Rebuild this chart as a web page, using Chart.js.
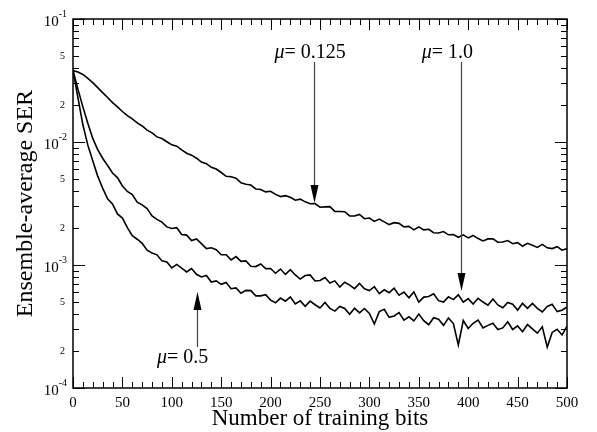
<!DOCTYPE html>
<html>
<head>
<meta charset="utf-8">
<script src="https://cdn.jsdelivr.net/npm/chart.js@4.4.0/dist/chart.umd.min.js"></script>
<style>
  html, body { margin: 0; padding: 0; background: #fff; }
  canvas { display: block; }
</style>
</head>
<body>
<canvas id="serChart" width="597" height="432"></canvas>
<script>
// training bit index of each sample
const bits = [0, 5, 10, 15, 20, 25, 30, 35, 40, 45, 50, 55, 60, 65, 70, 75, 80, 85, 90, 95,
  100, 105, 110, 115, 120, 125, 130, 135, 140, 145, 150, 155, 160, 165, 170, 175, 180, 185, 190, 195,
  200, 205, 210, 215, 220, 225, 230, 235, 240, 245, 250, 255, 260, 265, 270, 275, 280, 285, 290, 295,
  300, 305, 310, 315, 320, 325, 330, 335, 340, 345, 350, 355, 360, 365, 370, 375, 380, 385, 390, 395,
  400, 405, 410, 415, 420, 425, 430, 435, 440, 445, 450, 455, 460, 465, 470, 475, 480, 485, 490, 495, 500];

// ensemble-average SER, mu = 0.125
const serMu0125 = [0.0381, 0.0371, 0.0354, 0.0329, 0.0304, 0.0277, 0.0252, 0.0230, 0.0209, 0.0193,
  0.0177, 0.0164, 0.0154, 0.0143, 0.0135, 0.0125, 0.01186, 0.0110, 0.01066, 0.01004,
  0.00948, 0.00924, 0.00862, 0.00810, 0.00782, 0.00738, 0.00687, 0.00667, 0.00622, 0.00603,
  0.00565, 0.00526, 0.00522, 0.00508, 0.00466, 0.00454, 0.00447, 0.00415, 0.00411, 0.00393,
  0.00398, 0.00375, 0.00360, 0.00366, 0.00355, 0.00336, 0.00343, 0.00326, 0.00315, 0.00316,
  0.00295, 0.00297, 0.00298, 0.00273, 0.00272, 0.00271, 0.00251, 0.00250, 0.00258, 0.00238,
  0.00241, 0.00226, 0.00236, 0.00224, 0.00213, 0.00221, 0.00218, 0.00204, 0.00206, 0.00193,
  0.00204, 0.00193, 0.00195, 0.00183, 0.00182, 0.00187, 0.00176, 0.00177, 0.00168, 0.00176,
  0.00166, 0.00174, 0.00164, 0.00157, 0.00163, 0.00163, 0.00153, 0.00154, 0.00158, 0.00149,
  0.00152, 0.00142, 0.00150, 0.00145, 0.00139, 0.00147, 0.00138, 0.00136, 0.00141, 0.00132,
  0.00136];

// mu = 1.0
const serMu10 = [0.0381, 0.0269, 0.0193, 0.0142, 0.0107, 0.00868, 0.00738, 0.00644, 0.00560, 0.00514,
  0.00439, 0.00396, 0.00374, 0.00324, 0.00308, 0.00288, 0.00251, 0.00235, 0.00223, 0.00204,
  0.00198, 0.00201, 0.00177, 0.00175, 0.00158, 0.00163, 0.00149, 0.00136, 0.00138, 0.00133,
  0.00121, 0.00121, 0.00110, 0.00117, 0.00107, 0.00108, 0.000977, 0.000971, 0.00102, 0.000934,
  0.000937, 0.000857, 0.000927, 0.000838, 0.000915, 0.000830, 0.000769, 0.000821, 0.000830, 0.000742,
  0.000749, 0.000791, 0.000714, 0.000743, 0.000662, 0.000724, 0.000687, 0.000642, 0.000708, 0.000640,
  0.000620, 0.000666, 0.000585, 0.000629, 0.000596, 0.000647, 0.000569, 0.000602, 0.000542, 0.000604,
  0.000500, 0.000548, 0.000555, 0.000584, 0.000513, 0.000499, 0.000551, 0.000523, 0.000572, 0.000499,
  0.000533, 0.000481, 0.000536, 0.000500, 0.000471, 0.000529, 0.000473, 0.000449, 0.000496, 0.000480,
  0.000430, 0.000488, 0.000445, 0.000488, 0.000444, 0.000415, 0.000460, 0.000479, 0.000418, 0.000429,
  0.000456];

// mu = 0.5
const serMu05 = [0.0381, 0.0229, 0.0138, 0.00943, 0.00705, 0.00528, 0.00422, 0.00345, 0.00313, 0.00260,
  0.00241, 0.00201, 0.00173, 0.00162, 0.00150, 0.00132, 0.00125, 0.00121, 0.00108, 0.00106,
  0.000946, 0.00101, 0.000945, 0.000878, 0.000937, 0.000841, 0.000800, 0.000821, 0.000726, 0.000742,
  0.000696, 0.000721, 0.000642, 0.000651, 0.000590, 0.000622, 0.000619, 0.000561, 0.000561, 0.000574,
  0.000518, 0.000493, 0.000538, 0.000508, 0.000550, 0.000482, 0.000511, 0.000462, 0.000508, 0.000475,
  0.000447, 0.000496, 0.000444, 0.000422, 0.000460, 0.000443, 0.000397, 0.000446, 0.000408, 0.000443,
  0.000404, 0.000331, 0.000418, 0.000437, 0.000375, 0.000385, 0.000410, 0.000356, 0.000379, 0.000351,
  0.000399, 0.000353, 0.000327, 0.000373, 0.000362, 0.000323, 0.000371, 0.000334, 0.000224, 0.000354,
  0.000305, 0.000336, 0.000356, 0.000308, 0.000323, 0.000336, 0.000299, 0.000308, 0.000345, 0.000299,
  0.000320, 0.000287, 0.000328, 0.000303, 0.000279, 0.000314, 0.000215, 0.000283, 0.000300, 0.000270,
  0.000318];

// axis ticks
const xMajorTicks = [0, 50, 100, 150, 200, 250, 300, 350, 400, 450, 500];
const yDecades = [1e-4, 1e-3, 1e-2, 1e-1];
const yDecadeExps = ['-4', '-3', '-2', '-1'];
const yMinorMantissas = [2, 3, 4, 5, 6, 7, 8, 9];
const yLabelledMantissas = [2, 5];

// arrow annotations, in data units
const muLabels = ['0.125', '1.0', '0.5'];
const muLabelX = [204, 353, 85];
const muLabelY = [0.0482, 0.0482, 1.60e-4];
const arrowX = [244, 393, 125.5];
const arrowFrom = [0.0447, 0.0447, 2.15e-4];
const arrowTo = [0.00319, 6.15e-4, 6.03e-4];

const serif = "'Liberation Serif', 'Times New Roman', serif";

function series(vals) {
  return bits.map((b, i) => ({ x: b, y: vals[i] }));
}

function lineStyle(vals) {
  return {
    data: series(vals),
    borderColor: '#000',
    borderWidth: 1.6,
    pointRadius: 0,
    tension: 0,
    fill: false
  };
}

const framePlugin = {
  id: 'frame',
  afterDraw(chart) {
    const ctx = chart.ctx;
    const a = chart.chartArea;
    const sx = chart.scales.x;
    const sy = chart.scales.y;
    ctx.save();

    // inward ticks on all four sides
    ctx.strokeStyle = '#000';
    ctx.lineWidth = 1;
    ctx.beginPath();
    for (let v = 0; v <= 500; v += 10) {
      const p = Math.round(sx.getPixelForValue(v)) + 0.5;
      const len = v % 50 === 0 ? 11 : 6;
      ctx.moveTo(p, a.bottom); ctx.lineTo(p, a.bottom - len);
      ctx.moveTo(p, a.top); ctx.lineTo(p, a.top + len);
    }
    yDecades.forEach((d, k) => {
      const p = Math.round(sy.getPixelForValue(d)) + 0.5;
      ctx.moveTo(a.left, p); ctx.lineTo(a.left + 12, p);
      ctx.moveTo(a.right, p); ctx.lineTo(a.right - 12, p);
      if (k < yDecades.length - 1) {
        yMinorMantissas.forEach(m => {
          const q = Math.round(sy.getPixelForValue(m * d)) + 0.5;
          ctx.moveTo(a.left, q); ctx.lineTo(a.left + 6, q);
          ctx.moveTo(a.right, q); ctx.lineTo(a.right - 6, q);
        });
      }
    });
    ctx.stroke();

    ctx.lineWidth = 1.5;
    ctx.strokeRect(a.left, a.top, a.right - a.left, a.bottom - a.top);

    ctx.fillStyle = '#000';

    // x tick labels
    ctx.font = '15px ' + serif;
    ctx.textAlign = 'center';
    ctx.textBaseline = 'alphabetic';
    xMajorTicks.forEach(v => {
      ctx.fillText(String(v), sx.getPixelForValue(v), a.bottom + 19);
    });

    // y decade labels 10^n
    yDecades.forEach((d, k) => {
      const p = sy.getPixelForValue(d);
      ctx.textAlign = 'right';
      ctx.font = '10px ' + serif;
      const supW = ctx.measureText(yDecadeExps[k]).width;
      ctx.fillText(yDecadeExps[k], a.left - 6, p - 2);
      ctx.font = '15px ' + serif;
      ctx.fillText('10', a.left - 6 - supW, p + 7);
    });

    // y minor labels 2 and 5
    ctx.font = '10px ' + serif;
    ctx.textAlign = 'right';
    ctx.textBaseline = 'middle';
    yDecades.slice(0, -1).forEach(d => {
      yLabelledMantissas.forEach(m => {
        ctx.fillText(String(m), a.left - 8, sy.getPixelForValue(m * d));
      });
    });

    // axis titles
    ctx.textBaseline = 'alphabetic';
    ctx.textAlign = 'center';
    ctx.font = '23px ' + serif;
    ctx.fillText('Number of training bits', (a.left + a.right) / 2, a.bottom + 37);
    ctx.save();
    ctx.translate(32, (a.top + a.bottom) / 2);
    ctx.rotate(-Math.PI / 2);
    ctx.font = '24px ' + serif;
    ctx.fillText('Ensemble-average SER', 0, 0);
    ctx.restore();

    // mu labels and arrows
    muLabels.forEach((txt, i) => {
      const lx = sx.getPixelForValue(muLabelX[i]);
      const ly = sy.getPixelForValue(muLabelY[i]);
      ctx.textAlign = 'left';
      ctx.font = 'italic 20px ' + serif;
      ctx.fillText('\u03bc', lx, ly);
      const muW = ctx.measureText('\u03bc').width;
      ctx.font = '20px ' + serif;
      ctx.fillText('= ' + txt, lx + muW, ly);

      const ax = Math.round(sx.getPixelForValue(arrowX[i])) + 0.5;
      const y0 = sy.getPixelForValue(arrowFrom[i]);
      const y1 = sy.getPixelForValue(arrowTo[i]);
      const dir = y1 > y0 ? 1 : -1;
      const head = 18;
      ctx.strokeStyle = '#444';
      ctx.lineWidth = 1.2;
      ctx.beginPath();
      ctx.moveTo(ax, y0);
      ctx.lineTo(ax, y1 - dir * head);
      ctx.stroke();
      ctx.fillStyle = '#000';
      ctx.beginPath();
      ctx.moveTo(ax, y1);
      ctx.lineTo(ax - 4, y1 - dir * head);
      ctx.lineTo(ax + 4, y1 - dir * head);
      ctx.closePath();
      ctx.fill();
    });

    ctx.restore();
  }
};

const ctx = document.getElementById('serChart').getContext('2d');
const chart = new Chart(ctx, {
  type: 'line',
  data: {
    datasets: [lineStyle(serMu0125), lineStyle(serMu10), lineStyle(serMu05)]
  },
  options: {
    responsive: false,
    animation: false,
    layout: { padding: { left: 73, right: 30, top: 19, bottom: 44 } },
    plugins: { legend: { display: false }, tooltip: { enabled: false } },
    scales: {
      x: { type: 'linear', min: 0, max: 500, display: false },
      y: { type: 'logarithmic', min: 1e-4, max: 1e-1, display: false }
    }
  },
  plugins: [framePlugin]
});
</script>
</body>
</html>
